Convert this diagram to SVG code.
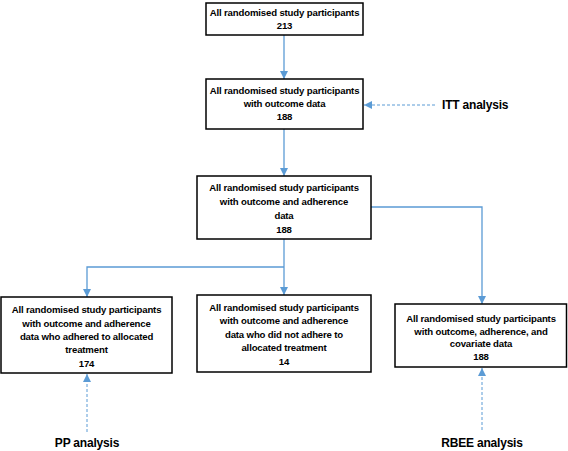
<svg xmlns="http://www.w3.org/2000/svg" width="568" height="451" viewBox="0 0 568 451">
<style>
.box{fill:#fff;stroke:#000;stroke-width:1.5}
.t{font-family:"Liberation Sans",Arial,sans-serif;font-size:9.6px;letter-spacing:-0.15px;font-weight:bold;text-anchor:middle;fill:#000}
.lab{font-family:"Liberation Sans",Arial,sans-serif;font-size:12px;letter-spacing:-0.2px;font-weight:bold;fill:#000}
.c{fill:none;stroke:#5b9bd5;stroke-width:1.3}
.d{fill:none;stroke:#5b9bd5;stroke-width:1;stroke-dasharray:3,2}
</style>
<defs>
<marker id="ah" viewBox="0 0 10 10" refX="10" refY="5" markerWidth="8" markerHeight="8" markerUnits="userSpaceOnUse" orient="auto">
<path d="M0,0 L10,5 L0,10 z" fill="#5b9bd5"/>
</marker>
</defs>
<rect width="568" height="451" fill="#fff"/>
<g id="connectors">
<path class="c" d="M284,35 V79" marker-end="url(#ah)"/>
<path class="c" d="M284,129 V176" marker-end="url(#ah)"/>
<path class="c" d="M284,239 V295" marker-end="url(#ah)"/>
<path class="c" d="M284,267 H87 V297" marker-end="url(#ah)"/>
<path class="c" d="M371,207 H482 V304" marker-end="url(#ah)"/>
<path class="d" d="M435,105 H364" marker-end="url(#ah)"/>
<path class="d" d="M87,432 V374" marker-end="url(#ah)"/>
<path class="d" d="M482,430 V368" marker-end="url(#ah)"/>
</g>
<g id="n1">
<rect class="box" x="206" y="3" width="157" height="32"/>
<text class="t" x="284.5" y="16">All randomised study participants</text>
<text class="t" x="284.5" y="29">213</text>
</g>
<g id="n2">
<rect class="box" x="206" y="79" width="157" height="50"/>
<text class="t" x="284.5" y="94">All randomised study participants</text>
<text class="t" x="284.5" y="107">with outcome data</text>
<text class="t" x="284.5" y="120">188</text>
</g>
<g id="n3">
<rect class="box" x="197" y="176" width="174" height="63"/>
<text class="t" x="284" y="191">All randomised study participants</text>
<text class="t" x="284" y="205">with outcome and adherence</text>
<text class="t" x="284" y="219">data</text>
<text class="t" x="284" y="233">188</text>
</g>
<g id="n4">
<rect class="box" x="1" y="297" width="171" height="76"/>
<text class="t" x="86.5" y="313">All randomised study participants</text>
<text class="t" x="86.5" y="326.5">with outcome and adherence</text>
<text class="t" x="86.5" y="340">data who adhered to allocated</text>
<text class="t" x="86.5" y="353">treatment</text>
<text class="t" x="86.5" y="366.5">174</text>
</g>
<g id="n5">
<rect class="box" x="197" y="295" width="174" height="77"/>
<text class="t" x="284" y="311">All randomised study participants</text>
<text class="t" x="284" y="324">with outcome and adherence</text>
<text class="t" x="284" y="338">data who did not adhere to</text>
<text class="t" x="284" y="351">allocated treatment</text>
<text class="t" x="284" y="365">14</text>
</g>
<g id="n6">
<rect class="box" x="395" y="304" width="171.5" height="63"/>
<text class="t" x="481" y="322">All randomised study participants</text>
<text class="t" x="481" y="334.5">with outcome, adherence, and</text>
<text class="t" x="481" y="347">covariate data</text>
<text class="t" x="481" y="359.5">188</text>
</g>
<g id="itt"><text class="lab" x="442" y="109">ITT analysis</text></g>
<g id="pp"><text class="lab" x="87" y="447" text-anchor="middle">PP analysis</text></g>
<g id="rbee"><text class="lab" x="482" y="447" text-anchor="middle">RBEE analysis</text></g>
</svg>
